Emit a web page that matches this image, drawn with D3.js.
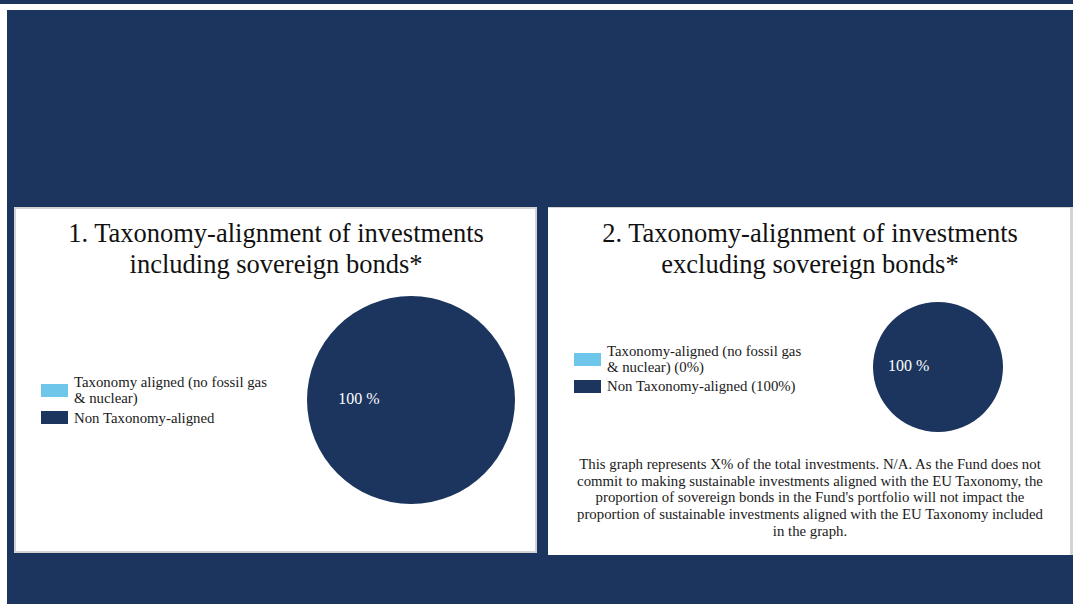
<!DOCTYPE html>
<html>
<head>
<meta charset="utf-8">
<script src="https://cdn.jsdelivr.net/npm/d3@7"></script>
<style>
html,body{margin:0;padding:0;background:#fff;}
svg{display:block;}
</style>
</head>
<body>
<svg id="chart" width="1073" height="604"></svg>
<script>
// ---- data ----
const categories = ["Taxonomy-aligned (no fossil gas & nuclear)", "Non Taxonomy-aligned"];
const valuesChart1 = [0, 100];
const valuesChart2 = [0, 100];
const titlesChart1 = ["1. Taxonomy-alignment of investments", "including sovereign bonds*"];
const titlesChart2 = ["2. Taxonomy-alignment of investments", "excluding sovereign bonds*"];
const legendChart1 = [["Taxonomy aligned (no fossil gas", "& nuclear)"], ["Non Taxonomy-aligned"]];
const legendChart2 = [["Taxonomy-aligned (no fossil gas", "& nuclear) (0%)"], ["Non Taxonomy-aligned (100%)"]];
const footnoteLines = [
  "This graph represents X% of the total investments. N/A. As the Fund does not",
  "commit to making sustainable investments aligned with the EU Taxonomy, the",
  "proportion of sovereign bonds in the Fund's portfolio will not impact the",
  "proportion of sustainable investments aligned with the EU Taxonomy included",
  "in the graph."
];
const colors = ["#6EC6EA", "#1C355E"];

// ---- drawing ----
const svg = d3.select("#chart");
const NAVY = "#1C355E";
const FONT = "'Palatino Linotype','Book Antiqua',Palatino,'Liberation Serif',serif";

svg.append("rect").attr("x", 0).attr("y", 0).attr("width", 1073).attr("height", 4).attr("fill", NAVY);
svg.append("rect").attr("x", 7).attr("y", 10).attr("width", 1066).attr("height", 594).attr("fill", NAVY);

// panels
svg.append("rect").attr("x", 15).attr("y", 208).attr("width", 521).attr("height", 344)
  .attr("fill", "#fff").attr("stroke", "#d4d4d4").attr("stroke-width", 2);
svg.append("rect").attr("x", 548).attr("y", 207).attr("width", 525).attr("height", 348).attr("fill", "#fff");
svg.append("rect").attr("x", 548).attr("y", 207).attr("width", 525).attr("height", 1).attr("fill", "#d4d4d4");
svg.append("rect").attr("x", 1070).attr("y", 207).attr("width", 3).attr("height", 348).attr("fill", "#d4d4d4");

function drawChart(cfg) {
  const g = svg.append("g");
  // title
  g.selectAll("text.title").data(cfg.titles).enter().append("text")
    .attr("x", cfg.titleX).attr("y", (d, i) => cfg.titleY + i * 31)
    .attr("text-anchor", "middle").attr("font-family", FONT).attr("font-size", 26.5)
    .attr("fill", "#111").text(d => d);

  // pie
  const pie = d3.pie().sort(null).startAngle(Math.PI / 2).endAngle(Math.PI / 2 + 2 * Math.PI);
  const arcs = pie(cfg.values);
  const arc = d3.arc().innerRadius(0).outerRadius(cfg.r);
  const labelArc = d3.arc().innerRadius(cfg.r * cfg.labelFrac).outerRadius(cfg.r * cfg.labelFrac);
  const pg = g.append("g").attr("transform", `translate(${cfg.cx},${cfg.cy})`);
  pg.selectAll("path").data(arcs).enter().append("path")
    .attr("d", arc).attr("fill", (d, i) => colors[i]);
  pg.selectAll("text").data(arcs.filter(d => d.value > 0)).enter().append("text")
    .attr("transform", d => {
      const c = labelArc.centroid(d);
      return `translate(${c[0]},${c[1]})`;
    })
    .attr("text-anchor", "middle").attr("dominant-baseline", "middle")
    .attr("font-family", FONT).attr("font-size", 16).attr("fill", "#fff")
    .text(d => d3.format("d")(d.value) + " %");

  // legend
  cfg.legend.forEach((lines, i) => {
    const it = cfg.legendItems[i];
    g.append("rect").attr("x", cfg.lx).attr("y", it.sy).attr("width", 27).attr("height", 13)
      .attr("fill", colors[i]).append("title").text(categories[i]);
    lines.forEach((t, j) => {
      g.append("text").attr("x", cfg.lx + 33).attr("y", it.ty + j * 16)
        .attr("font-family", FONT).attr("font-size", 14.8).attr("fill", "#1a1a1a").text(t);
    });
  });
}

drawChart({
  titles: titlesChart1, titleX: 276, titleY: 242,
  values: valuesChart1, cx: 411, cy: 400, r: 104, labelFrac: 0.5,
  legend: legendChart1, lx: 41,
  legendItems: [{sy: 384, ty: 387}, {sy: 411, ty: 423}]
});
drawChart({
  titles: titlesChart2, titleX: 810, titleY: 242,
  values: valuesChart2, cx: 938, cy: 367, r: 65, labelFrac: 0.45,
  legend: legendChart2, lx: 574,
  legendItems: [{sy: 353, ty: 356}, {sy: 380, ty: 391}]
});

svg.append("g").selectAll("text").data(footnoteLines).enter().append("text")
  .attr("x", 810).attr("y", (d, i) => 469 + i * 16.7)
  .attr("text-anchor", "middle").attr("font-family", FONT).attr("font-size", 14.8)
  .attr("fill", "#1a1a1a").text(d => d);
</script>
</body>
</html>
